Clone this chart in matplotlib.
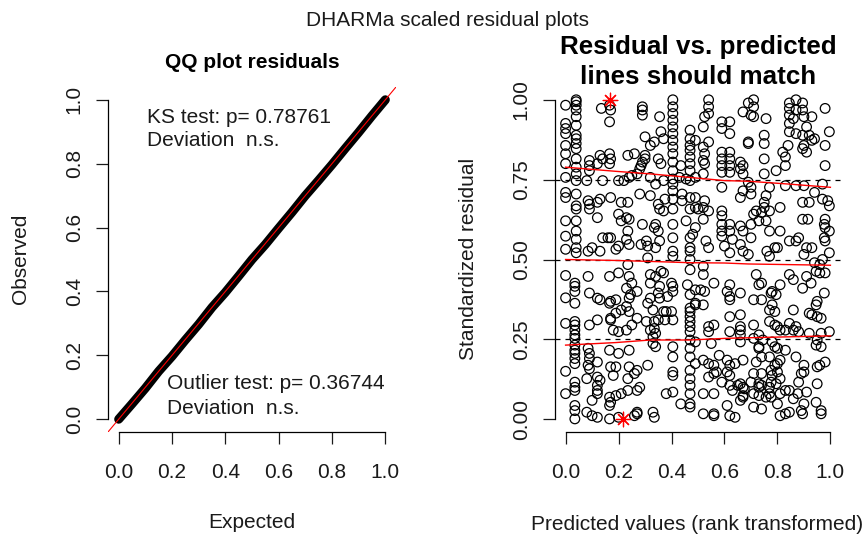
import matplotlib
matplotlib.use('Agg')
from matplotlib import pyplot as plt

plt.rcParams['font.family'] = ['Liberation Sans', 'DejaVu Sans']

# QQ plot: expected vs observed quantiles
expected = [0.0, 0.05, 0.1, 0.15, 0.2, 0.25, 0.3, 0.35, 0.4, 0.45, 0.5,
            0.55, 0.6, 0.65, 0.7, 0.75, 0.8, 0.85, 0.9, 0.95, 1.0]
observed = [0.0, 0.048, 0.097, 0.15, 0.197, 0.248, 0.297, 0.35, 0.397, 0.448, 0.5,
            0.547, 0.598, 0.648, 0.7, 0.748, 0.797, 0.848, 0.898, 0.95, 1.0]

# residual vs predicted scatter, grouped by region of the panel
pts_upper_left = [
    (0.0, 0.983), (0.0, 0.926), (0.0, 0.91), (0.0, 0.894), (0.0, 0.857), (0.0, 0.831),
    (0.0, 0.80), (0.0, 0.757), (0.0, 0.71), (0.0, 0.694), (0.0, 0.621), (0.0, 0.573), (0.0, 0.532),
    (0.04, 1.0), (0.04, 0.994), (0.04, 0.983), (0.04, 0.968), (0.04, 0.947), (0.04, 0.92),
    (0.04, 0.889), (0.04, 0.878), (0.04, 0.863), (0.04, 0.847), (0.04, 0.815), (0.04, 0.789),
    (0.04, 0.768), (0.04, 0.747), (0.04, 0.705), (0.04, 0.668), (0.04, 0.658), (0.04, 0.621),
    (0.04, 0.589), (0.04, 0.563), (0.04, 0.537), (0.04, 0.521),
    (0.09, 0.81), (0.09, 0.794), (0.09, 0.778), (0.08, 0.747), (0.085, 0.684), (0.09, 0.673),
    (0.09, 0.658), (0.085, 0.526), (0.10, 0.537),
    (0.135, 0.973), (0.13, 0.826), (0.14, 0.815), (0.12, 0.80), (0.14, 0.747), (0.13, 0.689),
    (0.12, 0.679), (0.12, 0.631), (0.14, 0.568), (0.13, 0.526),
    (0.166, 0.983), (0.17, 0.968), (0.166, 0.931), (0.166, 0.831), (0.17, 0.815), (0.166, 0.80),
    (0.17, 0.694), (0.16, 0.568), (0.17, 0.568),
    (0.20, 0.747), (0.22, 0.747), (0.21, 0.679), (0.235, 0.679), (0.20, 0.642), (0.23, 0.631),
    (0.21, 0.621), (0.24, 0.626), (0.235, 0.589), (0.23, 0.563), (0.20, 0.542), (0.19, 0.532),
    (0.24, 0.547),
    (0.235, 0.826), (0.26, 0.831), (0.25, 0.763), (0.24, 0.757), (0.27, 0.768), (0.28, 0.784),
    (0.285, 0.794), (0.29, 0.805), (0.30, 0.815), (0.30, 0.826),
    (0.29, 0.978), (0.29, 0.968), (0.29, 0.952), (0.30, 0.884), (0.28, 0.705), (0.29, 0.61),
    (0.305, 0.558), (0.285, 0.547),
    (0.32, 0.70), (0.32, 0.857), (0.335, 0.868), (0.32, 0.757), (0.34, 0.736), (0.34, 0.61),
    (0.335, 0.60), (0.35, 0.589), (0.31, 0.542), (0.34, 0.537),
    (0.355, 0.947), (0.36, 0.90), (0.37, 0.878), (0.35, 0.815), (0.36, 0.80), (0.37, 0.747),
    (0.375, 0.689), (0.35, 0.673), (0.355, 0.658), (0.37, 0.652), (0.355, 0.558),
    (0.405, 1.0), (0.405, 0.978), (0.405, 0.957), (0.405, 0.936), (0.405, 0.915), (0.405, 0.894),
    (0.405, 0.873), (0.405, 0.852), (0.405, 0.831), (0.405, 0.805), (0.405, 0.778), (0.405, 0.752),
    (0.405, 0.736), (0.405, 0.715), (0.405, 0.689), (0.405, 0.658), (0.405, 0.61), (0.405, 0.568),
    (0.405, 0.526),
    (0.43, 0.757), (0.44, 0.705), (0.435, 0.794), (0.455, 0.752), (0.44, 0.684),
    (0.47, 0.905), (0.47, 0.878), (0.47, 0.857), (0.47, 0.842), (0.47, 0.821), (0.47, 0.80),
    (0.47, 0.778), (0.47, 0.747), (0.47, 0.694), (0.47, 0.658), (0.455, 0.621), (0.47, 0.568),
    (0.47, 0.537), (0.49, 0.757), (0.49, 0.873), (0.49, 0.663), (0.49, 0.60),
]

pts_upper_right = [
    (0.54, 1.0), (0.54, 0.978), (0.54, 0.957), (0.525, 0.947), (0.52, 0.915), (0.54, 0.868),
    (0.52, 0.852), (0.525, 0.831), (0.52, 0.81), (0.525, 0.80), (0.52, 0.768), (0.49, 0.694),
    (0.525, 0.684), (0.52, 0.663), (0.50, 0.658), (0.54, 0.652), (0.52, 0.626), (0.48, 0.579),
    (0.53, 0.558), (0.54, 0.537),
    (0.59, 0.931), (0.62, 0.931), (0.59, 0.91), (0.62, 0.894), (0.59, 0.836), (0.59, 0.815),
    (0.59, 0.794), (0.59, 0.773), (0.59, 0.726), (0.62, 0.836), (0.62, 0.815), (0.62, 0.794),
    (0.62, 0.773), (0.59, 0.652), (0.59, 0.637), (0.59, 0.61), (0.59, 0.589), (0.59, 0.573),
    (0.62, 0.61), (0.62, 0.589), (0.63, 0.563), (0.60, 0.542), (0.62, 0.521),
    (0.71, 1.0), (0.69, 0.99), (0.71, 0.978), (0.67, 0.962), (0.70, 0.952), (0.71, 0.947),
    (0.69, 0.868), (0.69, 0.863), (0.66, 0.805), (0.67, 0.794), (0.66, 0.784), (0.67, 0.768),
    (0.69, 0.742), (0.70, 0.726), (0.67, 0.715), (0.66, 0.694), (0.70, 0.705), (0.66, 0.605),
    (0.70, 0.61), (0.67, 0.589), (0.70, 0.568), (0.71, 0.642), (0.72, 0.652), (0.66, 0.547),
    (0.67, 0.526), (0.69, 0.516),
    (0.757, 0.941), (0.75, 0.889), (0.75, 0.863), (0.75, 0.815), (0.75, 0.768), (0.77, 0.726),
    (0.757, 0.70), (0.75, 0.679), (0.75, 0.663), (0.74, 0.647), (0.77, 0.652), (0.757, 0.621),
    (0.73, 0.621), (0.81, 0.663), (0.77, 0.589), (0.76, 0.526), (0.79, 0.537), (0.80, 0.537),
    (0.77, 0.51),
    (0.845, 0.99), (0.845, 0.973), (0.845, 0.952), (0.86, 0.941), (0.845, 0.926), (0.845, 0.90),
    (0.87, 0.894), (0.895, 0.889), (0.84, 0.857), (0.82, 0.836), (0.83, 0.821), (0.795, 0.778),
    (0.83, 0.794), (0.83, 0.731), (0.87, 0.731), (0.81, 0.589), (0.845, 0.558), (0.87, 0.558),
    (0.87, 1.0), (0.895, 0.99), (0.87, 0.968), (0.895, 0.968), (0.90, 0.947), (0.93, 0.947),
    (0.91, 0.915), (0.92, 0.889), (0.93, 0.873), (0.94, 0.878), (0.90, 0.857), (0.91, 0.836),
    (0.895, 0.847), (0.90, 0.731), (0.94, 0.71), (0.895, 0.679), (0.92, 0.679), (0.895, 0.626),
    (0.915, 0.626), (0.88, 0.568), (0.91, 0.537), (0.93, 0.537), (0.90, 0.516),
    (0.98, 0.973), (0.996, 0.9), (0.98, 0.857), (0.98, 0.794), (0.97, 0.736), (0.97, 0.689),
    (0.99, 0.684), (0.996, 0.668), (0.98, 0.626), (0.977, 0.61), (0.98, 0.60), (0.996, 0.589),
    (0.977, 0.568), (0.98, 0.558), (0.996, 0.521),
]

pts_lower_left = [
    (0.035, 0.426), (0.035, 0.416), (0.035, 0.40), (0.035, 0.363), (0.035, 0.306), (0.035, 0.295),
    (0.035, 0.279), (0.035, 0.264), (0.035, 0.253), (0.035, 0.232), (0.035, 0.216), (0.035, 0.206),
    (0.035, 0.19), (0.035, 0.174), (0.035, 0.116), (0.035, 0.10), (0.035, 0.09), (0.035, 0.043),
    (0.035, 0.027), (0.035, 0.001),
    (0.0, 0.45), (0.0, 0.38), (0.0, 0.30), (0.0, 0.15), (0.0, 0.08),
    (0.085, 0.447), (0.09, 0.395), (0.12, 0.379), (0.13, 0.374), (0.12, 0.311), (0.09, 0.295),
    (0.085, 0.222), (0.09, 0.206), (0.09, 0.19), (0.085, 0.169), (0.09, 0.158), (0.08, 0.127),
    (0.12, 0.132), (0.12, 0.179), (0.13, 0.122), (0.12, 0.106), (0.12, 0.09), (0.12, 0.08),
    (0.08, 0.022), (0.10, 0.011), (0.12, 0.006), (0.10, 0.059),
    (0.166, 0.447), (0.20, 0.458), (0.17, 0.369), (0.166, 0.363), (0.19, 0.374), (0.17, 0.311),
    (0.17, 0.316), (0.18, 0.279), (0.20, 0.274), (0.19, 0.332), (0.21, 0.342), (0.166, 0.216),
    (0.20, 0.206), (0.17, 0.164), (0.19, 0.164), (0.18, 0.137), (0.166, 0.069), (0.17, 0.053),
    (0.166, 0.043), (0.19, 0.074), (0.21, 0.08), (0.166, 0.001), (0.20, 0.006),
    (0.235, 0.484), (0.24, 0.447), (0.25, 0.426), (0.23, 0.41), (0.24, 0.379), (0.245, 0.39),
    (0.27, 0.40), (0.23, 0.353), (0.24, 0.337), (0.23, 0.279), (0.25, 0.295), (0.27, 0.316),
    (0.24, 0.216), (0.24, 0.164), (0.235, 0.127), (0.27, 0.153), (0.26, 0.143), (0.235, 0.09),
    (0.27, 0.09), (0.28, 0.10), (0.27, 0.022), (0.27, 0.017), (0.26, 0.011),
    (0.32, 0.453), (0.31, 0.505), (0.34, 0.447), (0.36, 0.463), (0.37, 0.458), (0.32, 0.426),
    (0.355, 0.416), (0.35, 0.395), (0.32, 0.379), (0.355, 0.379), (0.31, 0.363), (0.33, 0.342),
    (0.37, 0.337), (0.38, 0.337), (0.305, 0.306), (0.335, 0.306), (0.35, 0.311), (0.375, 0.311),
    (0.32, 0.279), (0.335, 0.284), (0.33, 0.258), (0.34, 0.269), (0.33, 0.237), (0.34, 0.227),
    (0.31, 0.169), (0.33, 0.022), (0.335, 0.006), (0.38, 0.08),
    (0.405, 0.51), (0.40, 0.426), (0.405, 0.416), (0.405, 0.40), (0.385, 0.384), (0.40, 0.337),
    (0.405, 0.311), (0.405, 0.227), (0.405, 0.195), (0.405, 0.148), (0.405, 0.137), (0.405, 0.085),
    (0.435, 0.048),
    (0.47, 0.526), (0.47, 0.50), (0.47, 0.468), (0.46, 0.421), (0.47, 0.39), (0.47, 0.348),
    (0.47, 0.337), (0.47, 0.321), (0.47, 0.306), (0.47, 0.29), (0.47, 0.274), (0.47, 0.248),
    (0.47, 0.222), (0.47, 0.195), (0.47, 0.153), (0.47, 0.127), (0.47, 0.106), (0.47, 0.08),
    (0.47, 0.048), (0.47, 0.038), (0.49, 0.405), (0.49, 0.358), (0.49, 0.242), (0.49, 0.174),
]

pts_lower_right = [
    (0.52, 0.479), (0.52, 0.453), (0.51, 0.405), (0.525, 0.40), (0.49, 0.363), (0.52, 0.358),
    (0.54, 0.29), (0.54, 0.274), (0.56, 0.295), (0.55, 0.237), (0.52, 0.185), (0.54, 0.174),
    (0.56, 0.169), (0.58, 0.20), (0.56, 0.143), (0.54, 0.132), (0.57, 0.148), (0.52, 0.08),
    (0.56, 0.08), (0.52, 0.017), (0.56, 0.017), (0.56, 0.011),
    (0.56, 0.426), (0.62, 0.421), (0.61, 0.40), (0.62, 0.384), (0.62, 0.374), (0.66, 0.395),
    (0.62, 0.321), (0.66, 0.327), (0.66, 0.29), (0.66, 0.279), (0.62, 0.274), (0.66, 0.264),
    (0.66, 0.242), (0.61, 0.185), (0.62, 0.169), (0.64, 0.174), (0.67, 0.185), (0.61, 0.148),
    (0.62, 0.137), (0.59, 0.116), (0.62, 0.106), (0.66, 0.111), (0.67, 0.10), (0.67, 0.074),
    (0.67, 0.069), (0.66, 0.059), (0.63, 0.09), (0.65, 0.106), (0.61, 0.043), (0.62, 0.011),
    (0.64, 0.006), (0.675, 0.095),
    (0.72, 0.453), (0.74, 0.426), (0.73, 0.421), (0.71, 0.374), (0.74, 0.374), (0.71, 0.295),
    (0.73, 0.264), (0.71, 0.253), (0.73, 0.227), (0.73, 0.222), (0.745, 0.248), (0.72, 0.179),
    (0.74, 0.195), (0.77, 0.195), (0.71, 0.143), (0.74, 0.143), (0.70, 0.116), (0.73, 0.111),
    (0.74, 0.106), (0.73, 0.10), (0.71, 0.08), (0.73, 0.074), (0.71, 0.038), (0.74, 0.032),
    (0.757, 0.069), (0.77, 0.08),
    (0.776, 0.395), (0.78, 0.40), (0.81, 0.421), (0.795, 0.39), (0.78, 0.358), (0.77, 0.342),
    (0.79, 0.337), (0.77, 0.306), (0.79, 0.295), (0.80, 0.29), (0.81, 0.279), (0.83, 0.279),
    (0.78, 0.242), (0.79, 0.227), (0.80, 0.222), (0.83, 0.216), (0.81, 0.185), (0.80, 0.174),
    (0.79, 0.169), (0.776, 0.153), (0.80, 0.148), (0.78, 0.137), (0.81, 0.127), (0.776, 0.116),
    (0.795, 0.111), (0.77, 0.10), (0.81, 0.08), (0.776, 0.069), (0.80, 0.048), (0.83, 0.09),
    (0.81, 0.011), (0.83, 0.017), (0.845, 0.022),
    (0.845, 0.453), (0.86, 0.437), (0.91, 0.447), (0.895, 0.41), (0.927, 0.426), (0.86, 0.342),
    (0.87, 0.29), (0.86, 0.279), (0.88, 0.274), (0.87, 0.195), (0.90, 0.169), (0.90, 0.148),
    (0.89, 0.143), (0.88, 0.116), (0.877, 0.08), (0.86, 0.064), (0.845, 0.09), (0.91, 0.085),
    (0.90, 0.048), (0.89, 0.027), (0.895, 0.017), (0.845, 0.30), (0.92, 0.269),
    (0.94, 0.49), (0.96, 0.484), (0.97, 0.50), (0.946, 0.463), (0.96, 0.458), (0.98, 0.458),
    (0.977, 0.395), (0.95, 0.369), (0.946, 0.358), (0.92, 0.332), (0.93, 0.327), (0.95, 0.321),
    (0.965, 0.316), (0.996, 0.274), (0.965, 0.269), (0.95, 0.248), (0.946, 0.232), (0.965, 0.227),
    (0.98, 0.179), (0.95, 0.164), (0.96, 0.169), (0.95, 0.111), (0.946, 0.053), (0.965, 0.027),
    (0.965, 0.017),
]

outliers_x = [0.166, 0.215]
outliers_y = [1.0, 0.0]

# quantile regression lines
q_x = [0.0, 0.19, 0.32, 0.468, 0.6, 0.69, 0.845, 1.0]
q75_y = [0.789, 0.776, 0.768, 0.757, 0.747, 0.745, 0.736, 0.726]
q50_y = [0.500, 0.497, 0.494, 0.490, 0.489, 0.486, 0.484, 0.482]
q25_y = [0.232, 0.240, 0.248, 0.248, 0.253, 0.255, 0.258, 0.261]

all_pts = pts_upper_left + pts_upper_right + pts_lower_left + pts_lower_right
pred_x = [p[0] for p in all_pts]
resid_y = [p[1] for p in all_pts]

W, H = 866, 535
fig = plt.figure(figsize=(W / 100, H / 100), dpi=100)


def style_axes(ax):
    ax.set_xlim(-0.04, 1.04)
    ax.set_ylim(-0.04, 1.04)
    for s in ['top', 'right']:
        ax.spines[s].set_visible(False)
    ax.spines['left'].set_bounds(0, 1)
    ax.spines['bottom'].set_bounds(0, 1)
    ax.spines['left'].set_linewidth(0.9)
    ax.spines['bottom'].set_linewidth(0.9)
    ax.tick_params(direction='out', length=8.5, width=0.9, labelsize=15, colors='#1a1a1a')
    ax.tick_params(axis='x', pad=14)
    ax.tick_params(axis='y', labelrotation=90, pad=9)
    ax.set_xticks([0, 0.2, 0.4, 0.6, 0.8, 1.0])
    ax.set_xticklabels(['0.0', '0.2', '0.4', '0.6', '0.8', '1.0'])


ax1 = fig.add_axes([108 / W, 1 - 432 / H, 288 / W, 345 / H])
style_axes(ax1)
ax1.set_yticks([0, 0.2, 0.4, 0.6, 0.8, 1.0])
ax1.set_yticklabels(['0.0', '0.2', '0.4', '0.6', '0.8', '1.0'], va='center')
ax1.plot(expected, observed, color='black', lw=6.5, solid_capstyle='round', zorder=2)
ax1.axline((0, 0), (1, 1), color='red', lw=0.8, zorder=3)
ax1.text(0.105, 0.944, 'KS test: p= 0.78761', fontsize=15, va='center', color='#1a1a1a')
ax1.text(0.105, 0.871, 'Deviation  n.s.', fontsize=15, va='center', color='#1a1a1a')
ax1.text(0.18, 0.113, 'Outlier test: p= 0.36744', fontsize=15, va='center', color='#1a1a1a')
ax1.text(0.18, 0.034, 'Deviation  n.s.', fontsize=15, va='center', color='#1a1a1a')

ax2 = fig.add_axes([555 / W, 1 - 432 / H, 286 / W, 345 / H])
style_axes(ax2)
ax2.set_yticks([0, 0.25, 0.5, 0.75, 1.0])
ax2.set_yticklabels(['0.00', '0.25', '0.50', '0.75', '1.00'], va='center')
ax2.scatter(pred_x, resid_y, s=48, facecolors='none', edgecolors='black', linewidths=0.9, zorder=2)
for q in [0.25, 0.5, 0.75]:
    ax2.axhline(q, color='black', lw=0.9, ls=(0, (4, 4)), zorder=1)
for qy in [q25_y, q50_y, q75_y]:
    ax2.plot(q_x, qy, color='red', lw=1.0, zorder=3)
ax2.scatter(outliers_x, outliers_y, marker=(8, 2, 0), s=110, color='red', linewidths=0.9, zorder=4)

fig.text(447 / W, 1 - 20 / H, 'DHARMa scaled residual plots', fontsize=15, ha='center', va='center', color='#1a1a1a')
fig.text(252 / W, 1 - 63 / H, 'QQ plot residuals', fontsize=15, fontweight='bold', ha='center', va='center')
fig.text(698 / W, 1 - 47 / H, 'Residual vs. predicted', fontsize=18.7, fontweight='bold', ha='center', va='center')
fig.text(698 / W, 1 - 77 / H, 'lines should match', fontsize=18.7, fontweight='bold', ha='center', va='center')
fig.text(252 / W, 1 - 523 / H, 'Expected', fontsize=15, ha='center', va='center', color='#1a1a1a')
fig.text(21 / W, 1 - 259 / H, 'Observed', fontsize=15, ha='center', va='center', rotation=90, color='#1a1a1a')
fig.text(697 / W, 1 - 525 / H, 'Predicted values (rank transformed)', fontsize=15, ha='center', va='center', color='#1a1a1a')
fig.text(468 / W, 1 - 259 / H, 'Standardized residual', fontsize=15, ha='center', va='center', rotation=90, color='#1a1a1a')

fig.savefig('out.png', dpi=100)
